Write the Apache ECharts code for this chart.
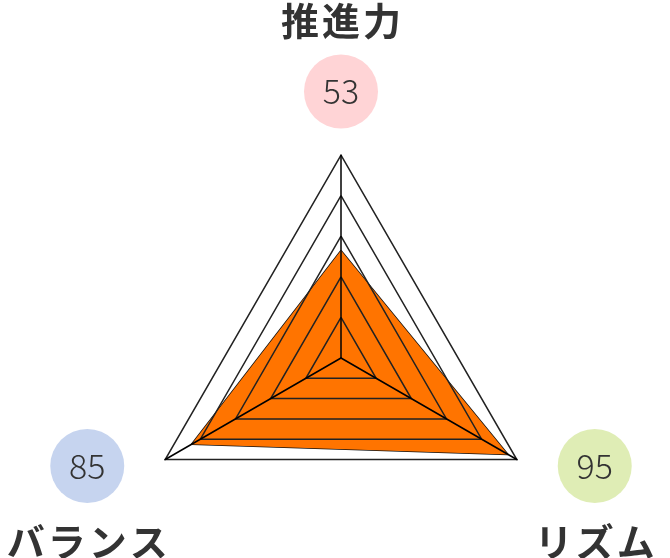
<!DOCTYPE html>
<html>
<head>
<meta charset="utf-8">
<script src="https://cdn.jsdelivr.net/npm/echarts@6/dist/echarts.min.js"></script>
<style>
html,body{margin:0;padding:0;background:#fff;}
#chart{width:670px;height:558px;}
</style>
</head>
<body>
<div id="chart"></div>
<script>
const indicatorNames = ['推進力', 'バランス', 'リズム'];
const indicatorMax = [100, 100, 100];
const seriesValues = [53, 85, 95];
const badgeColors = ['#ffd4d6', '#c6d4ef', '#dfedb5'];

const nameFont = { fontFamily: 'Noto Sans CJK JP', fontWeight: 'bold', fontSize: 38, color: '#333', width: 41, align: 'center' };
const rich = {
  nt: Object.assign({}, nameFont, { lineHeight: 67 }),
  nb: Object.assign({}, nameFont, { lineHeight: 77 })
};
badgeColors.forEach(function (c, i) {
  rich['b' + i] = {
    fontFamily: 'Noto Sans CJK JP', fontWeight: 300, fontSize: 34, color: '#333',
    backgroundColor: c, width: 74, height: 74, lineHeight: 74,
    borderRadius: 37, align: 'center'
  };
});
function spaced(name, style) {
  return name.split('').map(function (ch) { return '{' + style + '|' + ch + '}'; }).join('');
}

const chart = echarts.init(document.getElementById('chart'));
chart.setOption({
  backgroundColor: '#fff',
  animation: false,
  radar: {
    center: [341, 358],
    radius: 203,
    startAngle: 90,
    shape: 'polygon',
    splitNumber: 5,
    z: 5,
    axisNameGap: 90,
    indicator: indicatorNames.map(function (n, i) {
      const ind = { name: n, max: indicatorMax[i] };
      if (i === 0) ind.nameGap = 97;
      return ind;
    }),
    axisName: {
      align: 'center',
      verticalAlign: 'middle',
      formatter: function (name) {
        const i = indicatorNames.indexOf(name);
        if (i === 0) return spaced(name, 'nt') + '\n{b0|' + seriesValues[0] + '}';
        return '{b' + i + '|' + seriesValues[i] + '}\n' + spaced(name, 'nb');
      },
      rich: rich
    },
    splitLine: { lineStyle: { color: '#222', width: 1.5 } },
    splitArea: { show: false },
    axisLine: { lineStyle: { color: '#000', width: 1.5 } },
    axisTick: { show: false },
    axisLabel: { show: false }
  },
  series: [{
    type: 'radar',
    symbol: 'none',
    z: 2,
    data: [{ value: seriesValues }],
    lineStyle: { color: '#111', width: 1.5 },
    areaStyle: { color: '#ff7400', opacity: 1 }
  }]
});
</script>
</body>
</html>
